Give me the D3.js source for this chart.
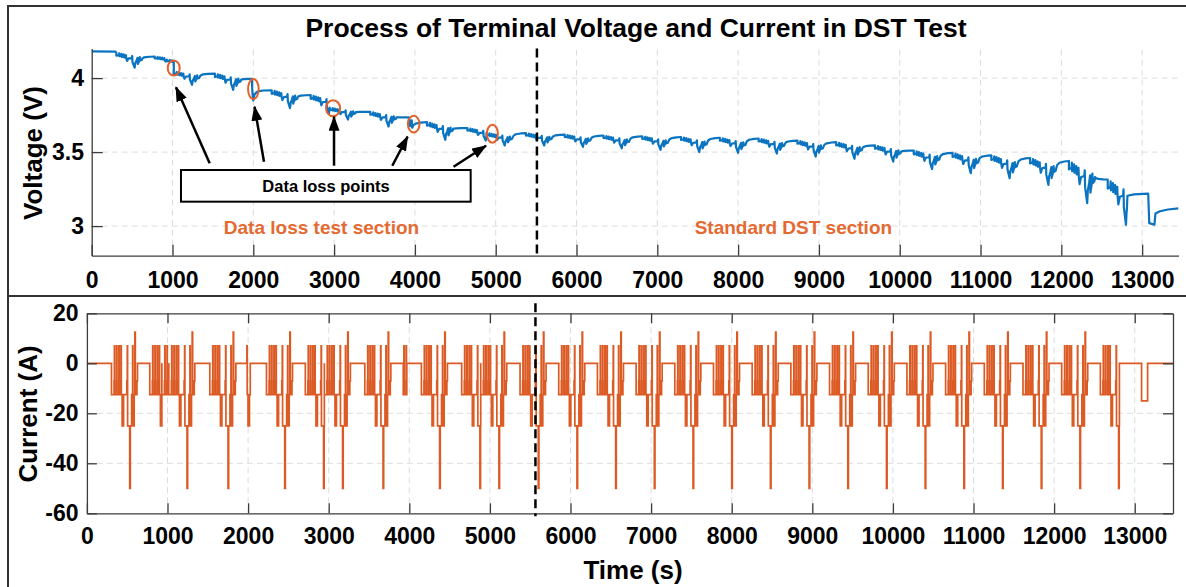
<!DOCTYPE html>
<html lang="en">
<head>
  <meta charset="UTF-8">
  <title>Process of Terminal Voltage and Current in DST Test</title>
  <style>
    body { margin: 0; background: #fff; }
    text { font-family: "Liberation Sans", Arial, Helvetica, sans-serif; font-weight: bold; }
  </style>
</head>
<body>
  <script src="https://cdn.jsdelivr.net/npm/d3@7"></script>

  <div id="chart"></div>

  <script>

    // one DST cycle: [offset (s), current (A)]
    let dstSteps = [
      [0, -12.5], [32, -7], [36, 7], [40, -12.5], [62, -7], [64, 7], [68, -12.5],
      [90, -7], [92, 7], [96, -12.5], [116, -7], [118, 7], [122, -12.5], [132, -25],
      [150, -12.5], [190, -7], [196, 7], [200, -25], [226, -50], [234, -25], [250, -12.5],
      [262, 7], [266, -25], [282, -12.5], [290, 12.5], [296, -12.5], [316, -7], [323, 0]
    ];
    // voltage sag at each step, as a share of the dip at the -50 A pulse
    let dstSag = [
      0.20, 0.16, 0.04, 0.24, 0.20, 0.08, 0.28,
      0.24, 0.12, 0.32, 0.28, 0.16, 0.36, 0.55,
      0.38, 0.36, 0.22, 0.62, 1.00, 0.70, 0.52,
      0.34, 0.75, 0.55, 0.30, 0.52, 0.48, 0.38
    ];

    // pieces of the profile that were run: [start (s), from offset, to offset]
    let runs = [
      [305, 0, 323], [780, 0, 150], [930, 0, 86], [1016, 0, 323], [1525, 0, 323],
      [1985, 118, 160], [2228, 0, 323], [2710, 0, 236], [2946, 0, 323], [3448, 0, 323],
      [3925, 28, 72], [4150, 0, 323], [4650, 0, 236], [4886, 0, 323], [5374, 0, 323],
      [5854, 0, 323], [6334, 0, 323], [6814, 0, 323], [7294, 0, 323], [7774, 0, 323],
      [8254, 0, 323], [8734, 0, 323], [9214, 0, 323], [9694, 0, 323], [10174, 0, 323],
      [10654, 0, 323], [11134, 0, 323], [11614, 0, 323], [12094, 0, 323], [12574, 0, 236]
    ];
    // terminal voltage just before each run, and at its -50 A pulse (V)
    let runRest = [
      4.172, 4.145, 4.125, 4.045, 4.03, 3.995, 3.918, 3.885, 3.80, 3.772,
      3.735, 3.702, 3.662, 3.63, 3.628, 3.618, 3.612, 3.607, 3.602, 3.597,
      3.592, 3.578, 3.567, 3.545, 3.51, 3.495, 3.478, 3.46, 3.44, 3.315
    ];
    let runDip = [
      4.07, 4.085, 4.07, 3.955, 3.92, 3.73, 3.797, 3.76, 3.72, 3.673,
      3.485, 3.583, 3.578, 3.545, 3.545, 3.535, 3.525, 3.515, 3.50, 3.495,
      3.49, 3.47, 3.455, 3.435, 3.385, 3.358, 3.324, 3.279, 3.155, 3.009
    ];
    // recovery in the rest after a run: [seconds after, share recovered]
    let restRecovery = [[12, 0.45], [40, 0.75], [100, 0.93]];

    let voltStart = [[0, 4.18], [295, 4.179]];
    let voltEnd = [
      [12818, 3.205], [12900, 3.214], [13075, 3.22], [13088, 3.02], [13152, 3.009],
      [13165, 3.085], [13220, 3.10], [13320, 3.112], [13450, 3.12]
    ];
    // last discharge pulse: [from (s), to (s), current (A)]
    let endPulse = [13085, 13160, -15];

    // circled data loss points [t (s), V]
    let lossPoints = [[1015, 4.068], [2001, 3.926], [2987, 3.797], [3985, 3.689], [4959, 3.624]];
    let arrowTips = [[1043, 3.938], [2015, 3.807], [2999, 3.739], [3910, 3.604], [4880, 3.543]];
    let arrowTails = [[1460, 3.424], [2132, 3.435], [2999, 3.408], [3720, 3.408], [4478, 3.401]];

    let timeTicks = [0, 1000, 2000, 3000, 4000, 5000, 6000, 7000, 8000, 9000, 10000, 11000, 12000, 13000];
    let voltTicks = [3, 3.5, 4];
    let currTicks = [-60, -40, -20, 0, 20];

    let voltColor = "#0b74c0", currColor = "#dc5a24", noteColor = "#e46a32";
    let axisColor = "#3c3c3c", gridColor = "#dcdcdc";

    function translate(x, y) { return 'translate(' + x + ',' + y + ')'; }

    // index of the step that is running at a given offset
    function stepAt(off) {
      let k = 0;
      dstSteps.forEach((s, i) => { if (s[0] <= off) k = i; });
      return k;
    }

    // current: the profile pieces, zero in between
    let current = [[0, 0]];
    runs.forEach(([t0, from, to]) => {
      current.push([t0, 0]);
      for (let i = stepAt(from); i < dstSteps.length - 1; i++) {
        let a = Math.max(dstSteps[i][0], from), b = Math.min(dstSteps[i + 1][0], to);
        if (b <= a) break;
        current.push([t0 + a - from, dstSteps[i][1]], [t0 + b - from, dstSteps[i][1]]);
      }
      current.push([t0 + to - from, 0]);
    });
    current.push([endPulse[0], 0], [endPulse[0], endPulse[2]], [endPulse[1], endPulse[2]], [endPulse[1], 0], [13475, 0]);

    // voltage: sag of each run, recovery in the rests
    let voltage = voltStart.slice();
    runs.forEach(([t0, from, to], k) => {
      let r = runRest[k], d = runDip[k];
      let sag = i => r - (r - d) * dstSag[i];
      voltage.push([t0, r]);
      let last = stepAt(to - 0.01);
      for (let i = stepAt(from); i <= last; i++) {
        voltage.push([t0 + Math.max(dstSteps[i][0], from) - from, sag(i)]);
      }
      let tEnd = t0 + to - from;
      let vEnd = to >= 323 ? sag(dstSteps.length - 1) : sag(last);
      voltage.push([tEnd, vEnd]);

      let next = k < runs.length - 1 ? [runs[k + 1][0], runRest[k + 1]] : voltEnd[0];
      restRecovery.forEach(([dt, f]) => {
        if (dt < next[0] - tEnd - 10) voltage.push([tEnd + dt, vEnd + (next[1] - vEnd) * f]);
      });
    });
    voltEnd.forEach(p => voltage.push(p));

    let svg = d3.select("#chart")
      .append("svg")
        .attr("width", 1186)
        .attr("height", 587);

    // figure frame and panel separator
    svg.append("path")
      .attr("d", "M8,587V6H1186M8,296H1186")
      .attr("fill", "none")
      .attr("stroke", "#333")
      .attr("stroke-width", 2);

    svg.append("text")
      .attr("x", 636)
      .attr("y", 37)
      .attr("text-anchor", "middle")
      .style("font-size", "26.5px")
      .text("Process of Terminal Voltage and Current in DST Test");

    function styleAxis(g, size) {
      g.attr("font-size", null).attr("font-family", null);
      g.select(".domain").attr("stroke", axisColor).attr("stroke-width", 1.3);
      g.selectAll(".tick line").attr("stroke", axisColor).attr("stroke-width", 1.3);
      g.selectAll(".tick text").attr("fill", "#000").style("font-size", size);
    }

    // ---------- voltage panel ----------
    let xV = d3.scaleLinear().domain([0, 13450]).range([91.7, 1178.5]);
    let yV = d3.scaleLinear().domain([2.8, 4.2]).range([255.7, 48.5]);

    let gridV = svg.append("g")
      .attr("stroke", gridColor)
      .attr("stroke-dasharray", "6,4");
    timeTicks.filter(t => t > 0).forEach(t => {
      gridV.append("line")
        .attr("x1", xV(t)).attr("x2", xV(t))
        .attr("y1", yV(2.8)).attr("y2", yV(4.2));
    });
    voltTicks.forEach(v => {
      gridV.append("line")
        .attr("x1", xV(0)).attr("x2", xV(13450))
        .attr("y1", yV(v)).attr("y2", yV(v));
    });

    svg.append("clipPath").attr("id", "clipV")
      .append("rect")
        .attr("x", xV(0)).attr("y", yV(4.2))
        .attr("width", xV(13450) - xV(0)).attr("height", yV(2.8) - yV(4.2));

    svg.append("path")
      .datum(voltage)
      .attr("clip-path", "url(#clipV)")
      .attr("fill", "none")
      .attr("stroke", voltColor)
      .attr("stroke-width", 2.2)
      .attr("stroke-linejoin", "round")
      .attr("d", d3.line().x(d => xV(d[0])).y(d => yV(d[1])));

    svg.append("g")
      .attr("transform", translate(0, yV(2.8)))
      .call(d3.axisBottom(xV).tickValues(timeTicks).tickFormat(d3.format("d"))
        .tickSizeInner(-11).tickSizeOuter(0).tickPadding(15.8))
      .call(g => styleAxis(g, "23px"));

    svg.append("g")
      .attr("transform", translate(xV(0), 0))
      .call(d3.axisLeft(yV).tickValues(voltTicks).tickFormat(d => String(d))
        .tickSizeInner(-11).tickSizeOuter(0).tickPadding(7.7))
      .call(g => styleAxis(g, "23px"));

    svg.append("text")
      .attr("transform", "translate(42,153) rotate(-90)")
      .attr("text-anchor", "middle")
      .style("font-size", "26px")
      .text("Voltage (V)");

    // section divider
    svg.append("line")
      .attr("x1", xV(5510)).attr("x2", xV(5510))
      .attr("y1", yV(4.2)).attr("y2", yV(2.8))
      .attr("stroke", "#000")
      .attr("stroke-width", 2.5)
      .attr("stroke-dasharray", "9,5");

    svg.append("text")
      .attr("x", xV(2844)).attr("y", yV(2.95))
      .attr("text-anchor", "middle")
      .attr("fill", noteColor)
      .style("font-size", "19px")
      .text("Data loss test section");

    svg.append("text")
      .attr("x", xV(8684)).attr("y", yV(2.95))
      .attr("text-anchor", "middle")
      .attr("fill", noteColor)
      .style("font-size", "19px")
      .text("Standard DST section");

    // data loss markers
    let ringSize = [[6, 7.5], [5.3, 10], [7, 8], [5.8, 8.3], [5.5, 9]];
    lossPoints.forEach((p, i) => {
      svg.append("ellipse")
        .attr("cx", xV(p[0])).attr("cy", yV(p[1]))
        .attr("rx", ringSize[i][0]).attr("ry", ringSize[i][1])
        .attr("fill", "none")
        .attr("stroke", "#e2602a")
        .attr("stroke-width", 2);
    });

    svg.append("defs").append("marker")
      .attr("id", "head")
      .attr("viewBox", "0 0 15 11")
      .attr("refX", 14).attr("refY", 5.5)
      .attr("markerWidth", 15).attr("markerHeight", 11)
      .attr("markerUnits", "userSpaceOnUse")
      .attr("orient", "auto")
      .append("path")
        .attr("d", "M0,0L15,5.5L0,11Z")
        .attr("fill", "#000");

    arrowTips.forEach((tip, i) => {
      svg.append("line")
        .attr("x1", xV(arrowTails[i][0])).attr("y1", yV(arrowTails[i][1]))
        .attr("x2", xV(tip[0])).attr("y2", yV(tip[1]))
        .attr("stroke", "#000")
        .attr("stroke-width", 2.5)
        .attr("marker-end", "url(#head)");
    });

    svg.append("rect")
      .attr("x", xV(1105)).attr("y", yV(3.379))
      .attr("width", xV(4690) - xV(1105)).attr("height", yV(3.165) - yV(3.379))
      .attr("fill", "#fff")
      .attr("stroke", "#000")
      .attr("stroke-width", 2);

    svg.append("text")
      .attr("x", xV(2900)).attr("y", yV(3.27) + 6)
      .attr("text-anchor", "middle")
      .style("font-size", "16.5px")
      .text("Data loss points");

    // ---------- current panel ----------
    let xI = d3.scaleLinear().domain([0, 13475]).range([86.9, 1173]);
    let yI = d3.scaleLinear().domain([-60, 20]).range([513.3, 313.3]);

    let gridI = svg.append("g")
      .attr("stroke", gridColor)
      .attr("stroke-dasharray", "6,4");
    timeTicks.filter(t => t > 0).forEach(t => {
      gridI.append("line")
        .attr("x1", xI(t)).attr("x2", xI(t))
        .attr("y1", yI(-60)).attr("y2", yI(20));
    });
    currTicks.filter(c => c > -60 && c < 20).forEach(c => {
      gridI.append("line")
        .attr("x1", xI(0)).attr("x2", xI(13475))
        .attr("y1", yI(c)).attr("y2", yI(c));
    });

    svg.append("clipPath").attr("id", "clipI")
      .append("rect")
        .attr("x", xI(0)).attr("y", yI(20))
        .attr("width", xI(13475) - xI(0)).attr("height", yI(-60) - yI(20));

    svg.append("path")
      .datum(current)
      .attr("clip-path", "url(#clipI)")
      .attr("fill", "none")
      .attr("stroke", currColor)
      .attr("stroke-width", 1.7)
      .attr("d", d3.line().x(d => xI(d[0])).y(d => yI(d[1])));

    svg.append("g")
      .attr("transform", translate(0, yI(-60)))
      .call(d3.axisBottom(xI).tickValues(timeTicks).tickFormat(d3.format("d"))
        .tickSizeInner(-10).tickSizeOuter(0).tickPadding(14.7))
      .call(g => styleAxis(g, "23px"));

    svg.append("g")
      .attr("transform", translate(0, yI(20)))
      .call(d3.axisTop(xI).tickValues(timeTicks).tickFormat("")
        .tickSizeInner(-10).tickSizeOuter(0))
      .call(g => styleAxis(g, "23px"));

    svg.append("g")
      .attr("transform", translate(xI(0), 0))
      .call(d3.axisLeft(yI).tickValues(currTicks).tickFormat(d => String(d))
        .tickSizeInner(-10).tickSizeOuter(0).tickPadding(8.4))
      .call(g => styleAxis(g, "23px"));

    svg.append("g")
      .attr("transform", translate(xI(13475), 0))
      .call(d3.axisRight(yI).tickValues(currTicks).tickFormat("")
        .tickSizeInner(-10).tickSizeOuter(0))
      .call(g => styleAxis(g, "23px"));

    svg.append("line")
      .attr("x1", xI(5565)).attr("x2", xI(5565))
      .attr("y1", yI(20) - 10).attr("y2", yI(-60) + 3)
      .attr("stroke", "#000")
      .attr("stroke-width", 2.5)
      .attr("stroke-dasharray", "9,5");

    svg.append("text")
      .attr("transform", "translate(37,414) rotate(-90)")
      .attr("text-anchor", "middle")
      .style("font-size", "26px")
      .text("Current (A)");

    svg.append("text")
      .attr("x", 633)
      .attr("y", 579)
      .attr("text-anchor", "middle")
      .style("font-size", "26px")
      .text("Time (s)");

  </script>
</body>
</html>
